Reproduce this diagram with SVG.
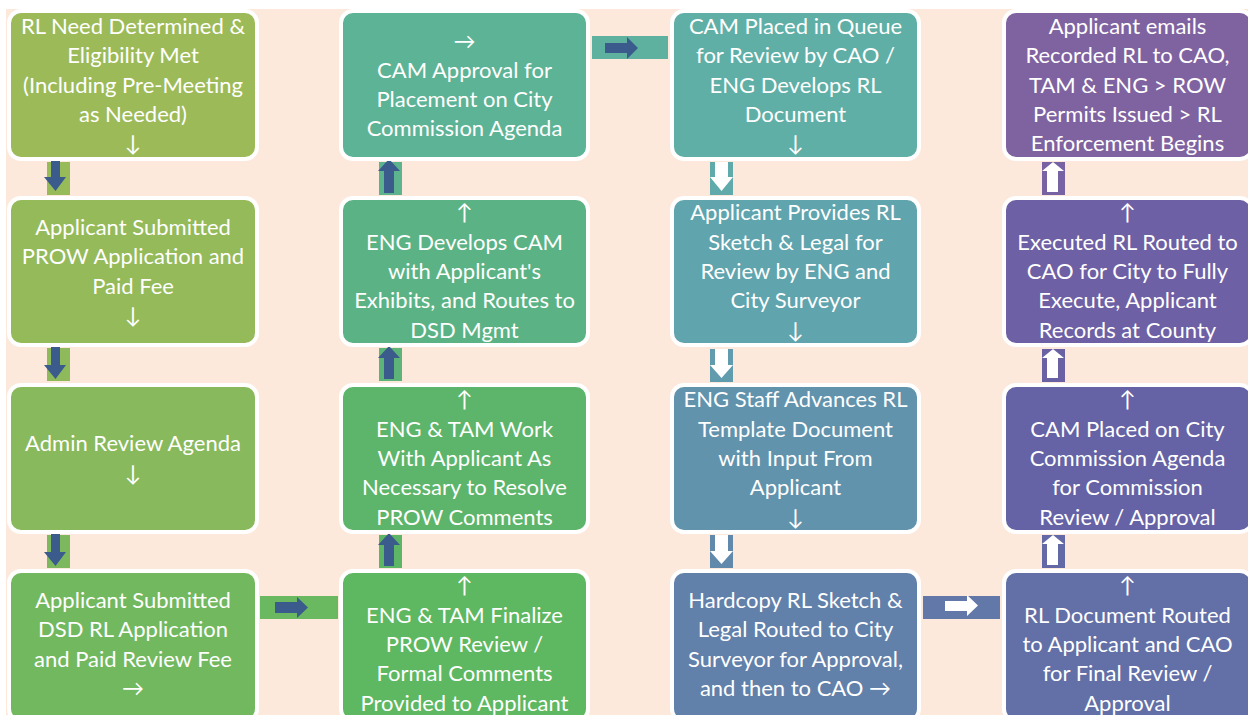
<svg xmlns="http://www.w3.org/2000/svg" width="1248" height="715" viewBox="0 0 1248 715">
<style>
.box{stroke:#FFFFFF;stroke-width:4}
.t{font-family:Lato,"DejaVu Sans",sans-serif;font-size:22px;fill:#FFFFFF;text-anchor:middle}
.dk{fill:#3A5B8C}
.wh{fill:#FFFFFF}
</style>
<rect x="0" y="0" width="1248" height="715" fill="#FFFFFF"/>
<rect x="6" y="9" width="1242" height="706" fill="#FDE9DB"/>
<g id="connectors">
  <!-- col1 down -->
  <rect x="47" y="162" width="23" height="33" fill="#98BB59"/>
  <path class="dk" d="M51,159 H60 V177 H66 L55.5,191 L44,177 H51 Z"/>
  <rect x="47" y="348" width="23" height="33" fill="#8EBA5B"/>
  <path class="dk" d="M51,346 H60 V365 H66 L55.5,379 L44,365 H51 Z"/>
  <rect x="47" y="535" width="23" height="33" fill="#7EB85E"/>
  <path class="dk" d="M51,533 H60 V552 H66 L55.5,566 L44,552 H51 Z"/>
  <!-- row4 col1 -> col2 -->
  <rect x="260" y="596" width="78" height="23" fill="#6AB85F"/>
  <path class="dk" d="M275,602 H297 V597 L308,607.5 L297,618 V613 H275 Z"/>
  <!-- col2 up -->
  <rect x="379" y="535" width="23" height="33" fill="#5DB665"/>
  <path class="dk" d="M389,533 L400,545 H394 V566 H384 V545 H378 Z"/>
  <rect x="379" y="348" width="23" height="33" fill="#5CB478"/>
  <path class="dk" d="M389,346 L400,358 H394 V379 H384 V358 H378 Z"/>
  <rect x="379" y="162" width="23" height="33" fill="#5CB38E"/>
  <path class="dk" d="M389,159 L400,171 H394 V193 H384 V171 H378 Z"/>
  <!-- row1 col2 -> col3 -->
  <rect x="592" y="36" width="76" height="23" fill="#5EB19E"/>
  <path class="dk" d="M605,43 H627 V37 L638,48 L627,59 V53 H605 Z"/>
  <!-- col3 down -->
  <rect x="710" y="162" width="23" height="33" fill="#60AAAB"/>
  <path class="wh" d="M715,162 H728 V177 H733 L721.5,191 L710,177 H715 Z"/>
  <rect x="710" y="349" width="23" height="33" fill="#609CAE"/>
  <path class="wh" d="M715,349 H728 V365 H733 L721.5,378 L710,365 H715 Z"/>
  <rect x="710" y="535" width="23" height="33" fill="#6189AC"/>
  <path class="wh" d="M715,535 H728 V551 H733 L721.5,564 L710,551 H715 Z"/>
  <!-- row4 col3 -> col4 -->
  <rect x="923" y="596" width="77" height="23" fill="#6278A9"/>
  <path class="wh" d="M945,601 H967 V595 L978,605.5 L967,616 V611 H945 Z"/>
  <!-- col4 up -->
  <rect x="1042" y="535" width="23" height="33" fill="#6369A6"/>
  <path class="wh" d="M1053,535 L1064,544 H1058 V565 H1047 V544 H1042 Z"/>
  <rect x="1042" y="349" width="23" height="33" fill="#6A61A5"/>
  <path class="wh" d="M1053,349 L1064,358 H1058 V378 H1047 V358 H1042 Z"/>
  <rect x="1042" y="162" width="23" height="33" fill="#7762A3"/>
  <path class="wh" d="M1053,162 L1064,171 H1058 V192 H1047 V171 H1042 Z"/>
</g>

<g id="n1"><rect class="box" x="9" y="11" width="248" height="148" rx="12" fill="#9CBB58"/>
<text class="t" x="133" y="34"><tspan x="133">RL Need Determined &amp;</tspan><tspan x="133" dy="29.3">Eligibility Met</tspan><tspan x="133" dy="29.3">(Including Pre-Meeting</tspan><tspan x="133" dy="29.3">as Needed)</tspan><tspan x="133" dy="29.3">↓</tspan></text></g>

<g id="n2"><rect class="box" x="9" y="198" width="248" height="147" rx="12" fill="#94BA5A"/>
<text class="t" x="133" y="235"><tspan x="133">Applicant Submitted</tspan><tspan x="133" dy="29.3">PROW Application and</tspan><tspan x="133" dy="29.3">Paid Fee</tspan><tspan x="133" dy="29.3">↓</tspan></text></g>

<g id="n3"><rect class="box" x="9" y="385" width="248" height="147" rx="12" fill="#88B95C"/>
<text class="t" x="133" y="451.4"><tspan x="133">Admin Review Agenda</tspan><tspan x="133" dy="29.3">↓</tspan></text></g>

<g id="n4"><rect class="box" x="9" y="571" width="248" height="150" rx="12" fill="#72B85F"/>
<text class="t" x="133" y="608"><tspan x="133">Applicant Submitted</tspan><tspan x="133" dy="29.3">DSD RL Application</tspan><tspan x="133" dy="29.3">and Paid Review Fee</tspan><tspan x="133" dy="29.3">→</tspan></text></g>

<g id="n5"><rect class="box" x="341" y="571" width="247" height="150" rx="12" fill="#5EB761"/>
<text class="t" x="464.5" y="593.4"><tspan x="464.5">↑</tspan><tspan x="464.5" dy="29.3">ENG &amp; TAM Finalize</tspan><tspan x="464.5" dy="29.3">PROW Review /</tspan><tspan x="464.5" dy="29.3">Formal Comments</tspan><tspan x="464.5" dy="29.3">Provided to Applicant</tspan></text></g>

<g id="n6"><rect class="box" x="341" y="385" width="247" height="147" rx="12" fill="#5CB56A"/>
<text class="t" x="464.5" y="407.4"><tspan x="464.5">↑</tspan><tspan x="464.5" dy="29.3">ENG &amp; TAM Work</tspan><tspan x="464.5" dy="29.3">With Applicant As</tspan><tspan x="464.5" dy="29.3">Necessary to Resolve</tspan><tspan x="464.5" dy="29.3">PROW Comments</tspan></text></g>

<g id="n7"><rect class="box" x="341" y="198" width="247" height="147" rx="12" fill="#5BB385"/>
<text class="t" x="464.5" y="220.4"><tspan x="464.5">↑</tspan><tspan x="464.5" dy="29.3">ENG Develops CAM</tspan><tspan x="464.5" dy="29.3">with Applicant's</tspan><tspan x="464.5" dy="29.3">Exhibits, and Routes to</tspan><tspan x="464.5" dy="29.3">DSD Mgmt</tspan></text></g>

<g id="n8"><rect class="box" x="341" y="11" width="247" height="148" rx="12" fill="#5DB396"/>
<text class="t" x="464.5" y="48.5"><tspan x="464.5">→</tspan><tspan x="464.5" dy="29.3">CAM Approval for</tspan><tspan x="464.5" dy="29.3">Placement on City</tspan><tspan x="464.5" dy="29.3">Commission Agenda</tspan></text></g>

<g id="n9"><rect class="box" x="672" y="11" width="247" height="148" rx="12" fill="#5FAFA7"/>
<text class="t" x="795.5" y="33.9"><tspan x="795.5">CAM Placed in Queue</tspan><tspan x="795.5" dy="29.3">for Review by CAO /</tspan><tspan x="795.5" dy="29.3">ENG Develops RL</tspan><tspan x="795.5" dy="29.3">Document</tspan><tspan x="795.5" dy="29.3">↓</tspan></text></g>

<g id="n10"><rect class="box" x="672" y="198" width="247" height="147" rx="12" fill="#60A4AE"/>
<text class="t" x="795.5" y="220.4"><tspan x="795.5">Applicant Provides RL</tspan><tspan x="795.5" dy="29.3">Sketch &amp; Legal for</tspan><tspan x="795.5" dy="29.3">Review by ENG and</tspan><tspan x="795.5" dy="29.3">City Surveyor</tspan><tspan x="795.5" dy="29.3">↓</tspan></text></g>

<g id="n11"><rect class="box" x="672" y="385" width="247" height="147" rx="12" fill="#6193AD"/>
<text class="t" x="795.5" y="407.4"><tspan x="795.5">ENG Staff Advances RL</tspan><tspan x="795.5" dy="29.3">Template Document</tspan><tspan x="795.5" dy="29.3">with Input From</tspan><tspan x="795.5" dy="29.3">Applicant</tspan><tspan x="795.5" dy="29.3">↓</tspan></text></g>

<g id="n12"><rect class="box" x="672" y="571" width="247" height="150" rx="12" fill="#6180AA"/>
<text class="t" x="795.5" y="608"><tspan x="795.5">Hardcopy RL Sketch &amp;</tspan><tspan x="795.5" dy="29.3">Legal Routed to City</tspan><tspan x="795.5" dy="29.3">Surveyor for Approval,</tspan><tspan x="795.5" dy="29.3">and then to CAO →</tspan></text></g>

<g id="n13"><rect class="box" x="1004" y="571" width="248" height="150" rx="12" fill="#6270A7"/>
<text class="t" x="1127.5" y="593.4"><tspan x="1127.5">↑</tspan><tspan x="1127.5" dy="29.3">RL Document Routed</tspan><tspan x="1127.5" dy="29.3">to Applicant and CAO</tspan><tspan x="1127.5" dy="29.3">for Final Review /</tspan><tspan x="1127.5" dy="29.3">Approval</tspan></text></g>

<g id="n14"><rect class="box" x="1004" y="385" width="248" height="147" rx="12" fill="#6562A5"/>
<text class="t" x="1127.5" y="407.4"><tspan x="1127.5">↑</tspan><tspan x="1127.5" dy="29.3">CAM Placed on City</tspan><tspan x="1127.5" dy="29.3">Commission Agenda</tspan><tspan x="1127.5" dy="29.3">for Commission</tspan><tspan x="1127.5" dy="29.3">Review / Approval</tspan></text></g>

<g id="n15"><rect class="box" x="1004" y="198" width="248" height="147" rx="12" fill="#6E60A4"/>
<text class="t" x="1127.5" y="220.4"><tspan x="1127.5">↑</tspan><tspan x="1127.5" dy="29.3">Executed RL Routed to</tspan><tspan x="1127.5" dy="29.3">CAO for City to Fully</tspan><tspan x="1127.5" dy="29.3">Execute, Applicant</tspan><tspan x="1127.5" dy="29.3">Records at County</tspan></text></g>

<g id="n16"><rect class="box" x="1004" y="11" width="248" height="148" rx="12" fill="#7F63A1"/>
<text class="t" x="1127.5" y="33.9"><tspan x="1127.5">Applicant emails</tspan><tspan x="1127.5" dy="29.3">Recorded RL to CAO,</tspan><tspan x="1127.5" dy="29.3">TAM &amp; ENG &gt; ROW</tspan><tspan x="1127.5" dy="29.3">Permits Issued &gt; RL</tspan><tspan x="1127.5" dy="29.3">Enforcement Begins</tspan></text></g>
</svg>
